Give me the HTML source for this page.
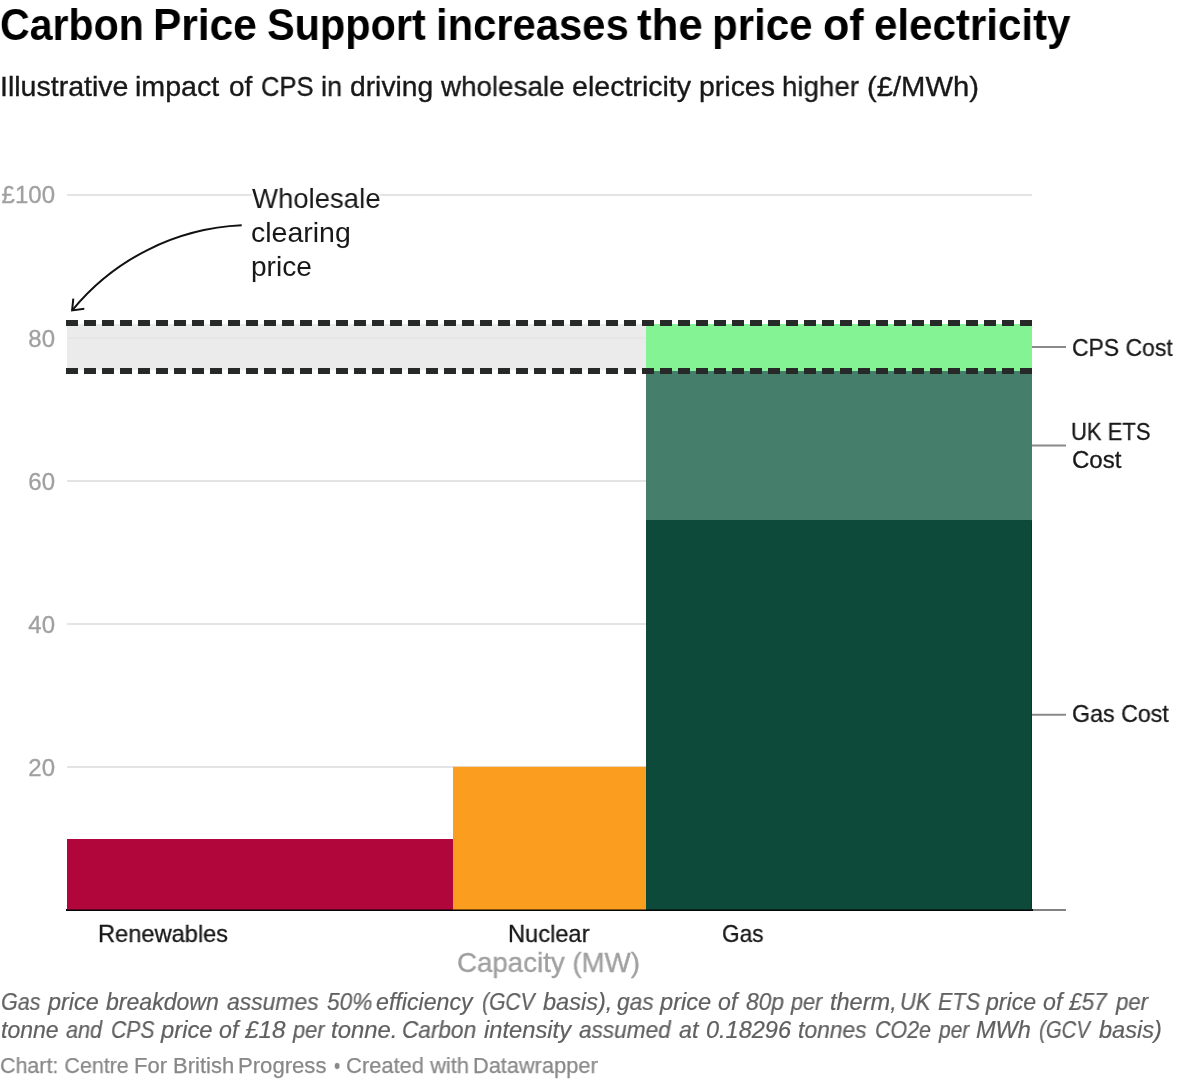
<!DOCTYPE html>
<html lang="en">
<head>
<meta charset="utf-8">
<title>Carbon Price Support increases the price of electricity</title>
<style>
  html, body { margin: 0; padding: 0; background: #ffffff; }
  body {
    width: 1200px; height: 1080px; position: relative; overflow: hidden;
    font-family: "Liberation Sans", sans-serif; color: #181818;
  }
  .t { position: absolute; white-space: nowrap; line-height: 1; transform-origin: 0 0; display: block; will-change: transform; }
  .title { font-size: 45px; font-weight: bold; color: #000; }
  .sub { font-size: 28px; color: #181818; -webkit-text-stroke: 0.35px #181818; }
  .yl { font-size: 24px; color: #a0a0a0; -webkit-text-stroke: 0.3px #a0a0a0; text-align: right; width: 55px; left: 0; }
  .xl { font-size: 24px; color: #181818; -webkit-text-stroke: 0.3px #181818; }
  .sl { font-size: 24px; color: #181818; -webkit-text-stroke: 0.3px #181818; }
  .cap { font-size: 28px; color: #a0a0a0; -webkit-text-stroke: 0.35px #a0a0a0; }
  .anno { font-size: 28px; color: #181818; -webkit-text-stroke: 0.35px #181818; paint-order: stroke fill;
          text-shadow: 0 0 3px #fff, 0 0 3px #fff, 2px 0 2px #fff, -2px 0 2px #fff, 0 2px 2px #fff, 0 -2px 2px #fff; }
  .note { font-size: 23px; font-style: italic; color: #606060; -webkit-text-stroke: 0.2px #606060; }
  .by { font-size: 22px; color: #888; -webkit-text-stroke: 0.25px #888; }
  svg { position: absolute; left: 0; top: 0; }
</style>
</head>
<body>
<h1 style="margin:0;font:inherit">
<span class="t title" style="left:0.17px;top:2px;transform:scaleX(0.9131);">Carbon</span>
<span class="t title" style="left:153.17px;top:2px;transform:scaleX(0.9434);">Price</span>
<span class="t title" style="left:267.38px;top:2px;transform:scaleX(0.9205);">Support</span>
<span class="t title" style="left:435.52px;top:2px;transform:scaleX(0.9281);">increases</span>
<span class="t title" style="left:637.0px;top:2px;transform:scaleX(0.9742);">the</span>
<span class="t title" style="left:711.9px;top:2px;transform:scaleX(0.935);">price</span>
<span class="t title" style="left:823.09px;top:2px;transform:scaleX(0.9561);">of</span>
<span class="t title" style="left:874.13px;top:2px;transform:scaleX(0.9356);">electricity</span>
</h1>
<p style="margin:0">
<span class="t sub" style="left:0.26px;top:72.5px;transform:scaleX(1.0195);">Illustrative</span>
<span class="t sub" style="left:135.26px;top:72.5px;transform:scaleX(1.021);">impact</span>
<span class="t sub" style="left:229.01px;top:72.5px;transform:scaleX(0.987);">of</span>
<span class="t sub" style="left:261.39px;top:72.5px;transform:scaleX(0.9107);">CPS</span>
<span class="t sub" style="left:321.37px;top:72.5px;transform:scaleX(0.9667);">in</span>
<span class="t sub" style="left:349.99px;top:72.5px;transform:scaleX(1.0087);">driving</span>
<span class="t sub" style="left:441.0px;top:72.5px;transform:scaleX(0.9919);">wholesale</span>
<span class="t sub" style="left:572.28px;top:72.5px;transform:scaleX(1.0207);">electricity</span>
<span class="t sub" style="left:699.47px;top:72.5px;transform:scaleX(1.0167);">prices</span>
<span class="t sub" style="left:782.02px;top:72.5px;transform:scaleX(0.9895);">higher</span>
<span class="t sub" style="left:866.71px;top:72.5px;transform:scaleX(1.0433);">(£/MWh)</span>
</p>

<svg width="1200" height="1080" viewBox="0 0 1200 1080">
  <!-- gridlines -->
  <g stroke="#e4e4e4" stroke-width="2">
    <line x1="67" y1="195" x2="1032" y2="195"/>
    <line x1="67" y1="338" x2="1032" y2="338"/>
    <line x1="67" y1="481" x2="1032" y2="481"/>
    <line x1="67" y1="624" x2="1032" y2="624"/>
    <line x1="67" y1="767" x2="1032" y2="767"/>
  </g>
  <!-- baseline -->
  <line x1="66" y1="910" x2="1033" y2="910" stroke="#050505" stroke-width="2"/>
  <line x1="1033" y1="910" x2="1066" y2="910" stroke="#828282" stroke-width="2"/>
  <!-- grey band -->
  <rect x="67" y="324" width="579" height="46" fill="#ebebeb"/>
  <line x1="67" y1="338" x2="646" y2="338" stroke="#e6e6e6" stroke-width="2"/>
  <!-- bars -->
  <rect x="67" y="839" width="386" height="70.5" fill="#b0063c"/>
  <rect x="453" y="766.8" width="193" height="142.7" fill="#fb9e1f"/>
  <rect x="646" y="324" width="386" height="49" fill="#84f394"/>
  <rect x="646" y="371" width="386" height="151" fill="#457f6c"/>
  <rect x="646" y="520" width="386" height="389.5" fill="#0d4a3a"/>
  <rect x="1031" y="521" width="1" height="388.5" fill="#063a2c"/>
  <!-- dashed lines -->
  <g stroke="#272929" stroke-width="6" stroke-dasharray="12 6">
    <line x1="66" y1="323" x2="1032" y2="323"/>
    <line x1="66" y1="371" x2="1032" y2="371"/>
  </g>
  <!-- label ticks -->
  <g stroke="#8a8a8a" stroke-width="2">
    <line x1="1032" y1="347" x2="1066" y2="347"/>
    <line x1="1032" y1="445.5" x2="1066" y2="445.5"/>
    <line x1="1032" y1="714.8" x2="1066" y2="714.8"/>
  </g>
  <!-- arrow -->
  <path d="M241.7 225.3 A233 233 0 0 0 72.2 310.3" fill="none" stroke="#111" stroke-width="2"/>
  <path d="M73.3 298.6 L72.1 310.4 L84.3 308.8" fill="none" stroke="#111" stroke-width="2" stroke-linejoin="miter"/>
</svg>

<div class="t yl" style="top:182.5px">£100</div>
<div class="t yl" style="top:326.5px">80</div>
<div class="t yl" style="top:469.5px">60</div>
<div class="t yl" style="top:612.5px">40</div>
<div class="t yl" style="top:755.5px">20</div>

<span class="t anno" style="left:251.5px;top:184.5px;transform:scaleX(0.9831);">Wholesale</span>
<span class="t anno" style="left:250.98px;top:218.5px;transform:scaleX(1.0179);">clearing</span>
<span class="t anno" style="left:251.2px;top:252.5px;transform:scaleX(1.0017);">price</span>
<span class="t sl" style="left:1071.84px;top:335.5px;transform:scaleX(0.9558);">CPS Cost</span>
<span class="t sl" style="left:1071.17px;top:420px;transform:scaleX(0.9167);">UK ETS</span>
<span class="t sl" style="left:1072.0px;top:448px;transform:scaleX(1.0);">Cost</span>
<span class="t sl" style="left:1072.03px;top:702px;transform:scaleX(0.9677);">Gas Cost</span>
<span class="t xl" style="left:98.23px;top:922px;transform:scaleX(0.9845);">Renewables</span>
<span class="t xl" style="left:507.63px;top:922px;transform:scaleX(0.9852);">Nuclear</span>
<span class="t xl" style="left:721.96px;top:922px;transform:scaleX(0.9429);">Gas</span>
<span class="t cap" style="left:457.01px;top:949px;transform:scaleX(0.9885);">Capacity (MW)</span>

<p style="margin:0">
<span class="t note" style="left:0.77px;top:990.5px;transform:scaleX(0.9341);">Gas</span>
<span class="t note" style="left:47.72px;top:990.5px;transform:scaleX(1.02);">price</span>
<span class="t note" style="left:106.0px;top:990.5px;transform:scaleX(1.0027);">breakdown</span>
<span class="t note" style="left:226.7px;top:990.5px;transform:scaleX(0.9957);">assumes</span>
<span class="t note" style="left:327.31px;top:990.5px;transform:scaleX(0.9864);">50%</span>
<span class="t note" style="left:376.29px;top:990.5px;transform:scaleX(1.0073);">efficiency</span>
<span class="t note" style="left:481.79px;top:990.5px;transform:scaleX(0.9138);">(GCV</span>
<span class="t note" style="left:542.7px;top:990.5px;transform:scaleX(1.0246);">basis),</span>
<span class="t note" style="left:616.7px;top:990.5px;transform:scaleX(0.9892);">gas</span>
<span class="t note" style="left:660.33px;top:990.5px;transform:scaleX(1.028);">price</span>
<span class="t note" style="left:718.07px;top:990.5px;transform:scaleX(1.0073);">of</span>
<span class="t note" style="left:745.51px;top:990.5px;transform:scaleX(0.9919);">80p</span>
<span class="t note" style="left:791.44px;top:990.5px;transform:scaleX(0.9429);">per</span>
<span class="t note" style="left:829.78px;top:990.5px;transform:scaleX(1.023);">therm,</span>
<span class="t note" style="left:900.39px;top:990.5px;transform:scaleX(0.9567);">UK</span>
<span class="t note" style="left:938.06px;top:990.5px;transform:scaleX(0.9395);">ETS</span>
<span class="t note" style="left:985.9px;top:990.5px;transform:scaleX(1.004);">price</span>
<span class="t note" style="left:1042.87px;top:990.5px;transform:scaleX(1.0073);">of</span>
<span class="t note" style="left:1069.2px;top:990.5px;transform:scaleX(0.9872);">£57</span>
<span class="t note" style="left:1115.97px;top:990.5px;transform:scaleX(0.9657);">per</span>
<span class="t note" style="left:0.71px;top:1018.5px;transform:scaleX(0.9929);">tonne</span>
<span class="t note" style="left:66.0px;top:1018.5px;transform:scaleX(0.941);">and</span>
<span class="t note" style="left:110.78px;top:1018.5px;transform:scaleX(0.9196);">CPS</span>
<span class="t note" style="left:161.03px;top:1018.5px;transform:scaleX(1.034);">price</span>
<span class="t note" style="left:219.27px;top:1018.5px;transform:scaleX(1.0074);">of</span>
<span class="t note" style="left:245.0px;top:1018.5px;transform:scaleX(1.0526);">£18</span>
<span class="t note" style="left:292.65px;top:1018.5px;transform:scaleX(0.9514);">per</span>
<span class="t note" style="left:330.66px;top:1018.5px;transform:scaleX(1.0383);">tonne.</span>
<span class="t note" style="left:402.32px;top:1018.5px;transform:scaleX(0.9824);">Carbon</span>
<span class="t note" style="left:484.0px;top:1018.5px;transform:scaleX(1.0318);">intensity</span>
<span class="t note" style="left:579.3px;top:1018.5px;transform:scaleX(0.983);">assumed</span>
<span class="t note" style="left:679.08px;top:1018.5px;transform:scaleX(1.0074);">at</span>
<span class="t note" style="left:705.68px;top:1018.5px;transform:scaleX(1.022);">0.18296</span>
<span class="t note" style="left:797.91px;top:1018.5px;transform:scaleX(0.9926);">tonnes</span>
<span class="t note" style="left:874.97px;top:1018.5px;transform:scaleX(0.931);">CO2e</span>
<span class="t note" style="left:939.21px;top:1018.5px;transform:scaleX(0.9114);">per</span>
<span class="t note" style="left:976.48px;top:1018.5px;transform:scaleX(1.0231);">MWh</span>
<span class="t note" style="left:1039.02px;top:1018.5px;transform:scaleX(0.8845);">(GCV</span>
<span class="t note" style="left:1098.5px;top:1018.5px;transform:scaleX(1.025);">basis)</span>
</p>
<p style="margin:0">
<span class="t by" style="left:0.33px;top:1055px;transform:scaleX(0.9746);">Chart: Centre</span>
<span class="t by" style="left:133.5px;top:1055px;transform:scaleX(1.0);">For British</span>
<span class="t by" style="left:238.49px;top:1055px;transform:scaleX(1.0047);">Progress</span>
<span class="t by" style="left:333.9px;top:1055px;transform:scaleX(0.8);">•</span>
<span class="t by" style="left:345.7px;top:1055px;transform:scaleX(0.9959);">Created with</span>
<span class="t by" style="left:472.72px;top:1055px;transform:scaleX(0.9887);">Datawrapper</span>
</p>
</body>
</html>
